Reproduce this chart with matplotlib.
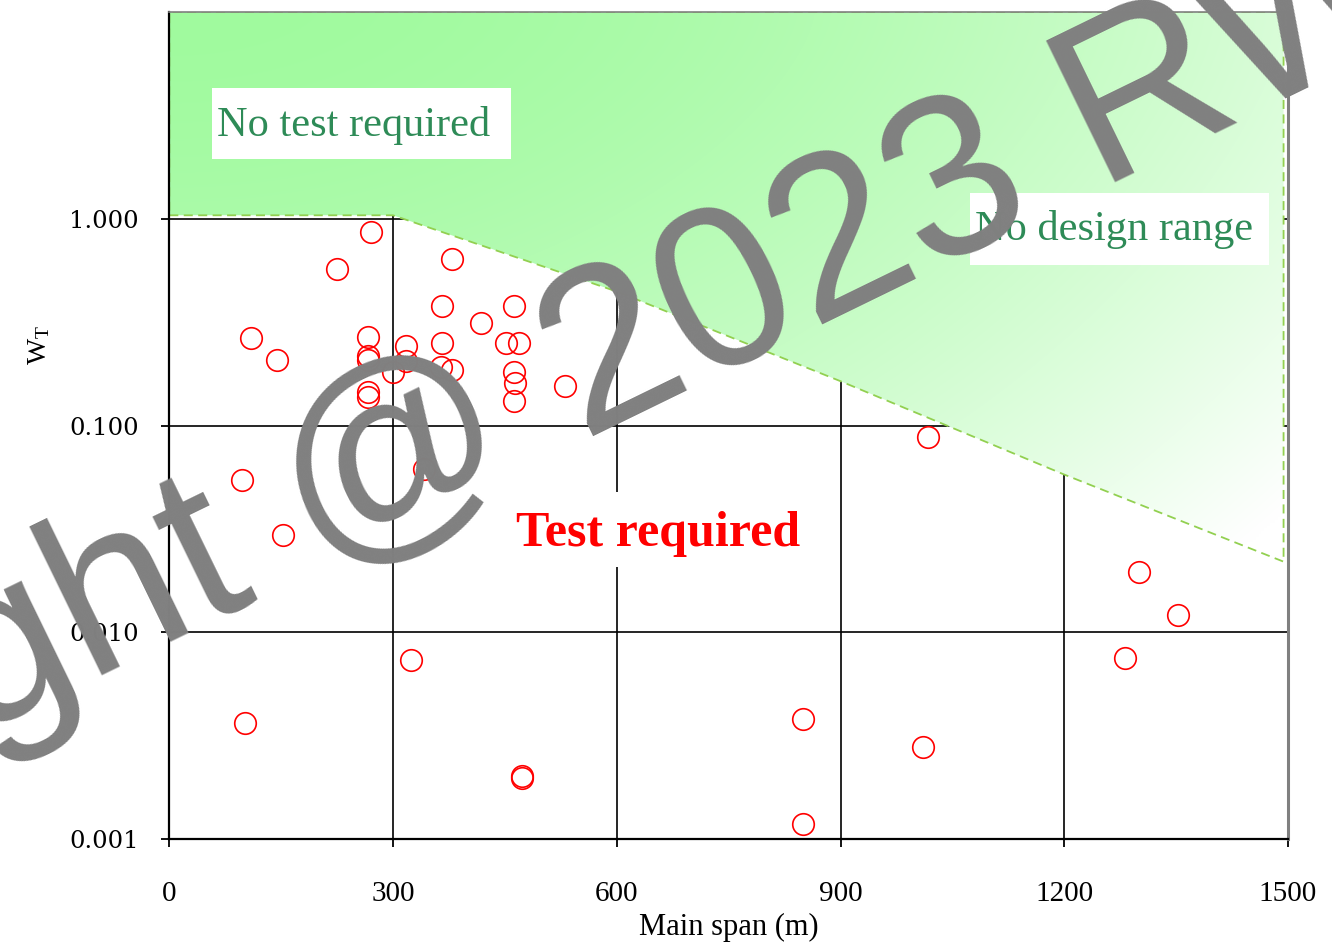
import numpy as np
import matplotlib
matplotlib.use("Agg")
import matplotlib.pyplot as plt
from matplotlib.patches import Polygon, Rectangle

plt.rcParams["font.family"] = ["Liberation Serif", "DejaVu Serif"]

# bridges: main span (m) and W_T
SPAN = [270, 225, 379, 110, 144, 267, 266, 266, 366, 418,
        462, 317, 317, 366, 452, 469, 364, 379, 462, 464,
        462, 530, 300, 267, 267, 98, 152, 341, 324, 473,
        473, 849, 849, 102, 1017, 1300, 1352, 1282, 1010]
WT = [0.861, 0.573, 0.636, 0.266, 0.207, 0.268, 0.217, 0.208, 0.378, 0.314,
      0.377, 0.244, 0.205, 0.251, 0.251, 0.251, 0.192, 0.185, 0.182, 0.161,
      0.131, 0.155, 0.182, 0.145, 0.137, 0.0544, 0.0295, 0.062, 0.00735, 0.00202,
      0.00198, 0.00381, 0.00119, 0.00365, 0.0881, 0.0195, 0.0121, 0.00749, 0.00278]

# lower edge of the "no test required" zone
LIMIT_SPAN = [0, 300, 600, 900, 1200, 1494]
LIMIT_WT = [1.04, 1.04, 0.445, 0.164, 0.058, 0.022]

YTICKS = [0.001, 0.01, 0.1, 1.0]
YTICK_LABELS = ["0.001", "0.010", "0.100", "1.000"]
XTICKS = [0, 300, 600, 900, 1200, 1500]

fig = plt.figure(figsize=(13.32, 9.44), dpi=100)
ax = fig.add_axes([0.1271, 0.1109, 0.8399, 0.8764])
ax.set_yscale("log")

# gradient-filled zone, clipped to the limit polygon
verts = list(zip(LIMIT_SPAN, LIMIT_WT)) + [(LIMIT_SPAN[-1], 10), (0, 10)]
zone = Polygon(verts, closed=True, facecolor="none", edgecolor="#92d050",
               ls=(0, (5, 3)), lw=1.3, zorder=2)
ax.add_patch(zone)

u = np.linspace(0, 1, 400)[None, :]
v = np.linspace(1, 0, 300)[:, None]
t = np.clip(0.6 * u ** 2 + 0.45 * ((1 - v) / 0.65) ** 1.5, 0, 1)
c0 = np.array([160, 250, 158]) / 255
img = c0 + (1 - c0) * t[..., None]
im = ax.imshow(img, extent=(0, 1, 0, 1), transform=ax.transAxes,
               aspect="auto", origin="upper", zorder=1, interpolation="bilinear")
im.set_clip_path(zone)

ax.plot(SPAN, WT, "o", mfc="none", mec="red", ms=15.5, mew=1.2, zorder=4)

ax.set_xlim(0, 1500)
ax.set_ylim(0.001, 10)
ax.set_xticks(XTICKS)
ax.set_yticks(YTICKS)
ax.set_yticklabels(YTICK_LABELS)
ax.minorticks_off()

ax.set_axisbelow(True)
ax.grid(True, color="black", lw=1.2)

for s in ("left", "bottom"):
    ax.spines[s].set_color("black")
    ax.spines[s].set_linewidth(1.6)
ax.spines["top"].set_color("#808080")
ax.spines["top"].set_linewidth(1.2)
ax.spines["right"].set_color("#808080")
ax.spines["right"].set_linewidth(2.2)

ax.tick_params(axis="x", direction="out", length=6, width=1.3, pad=24,
               labelsize=21)
ax.tick_params(axis="y", direction="out", length=6, width=1.3, pad=16,
               labelsize=17.5)
for lbl in ax.get_yticklabels():
    lbl.set_family("DejaVu Serif")

ax.set_xlabel("Main span (m)", fontsize=22, labelpad=4)
ax.set_ylabel(r"$\mathregular{W_T}$", fontsize=20)
ax.yaxis.set_label_coords(-0.105, 0.5975)

# white label boxes (axes fractions)
for x0, y0, w, h in [(0.0382, 0.8223, 0.2672, 0.0858),
                     (0.7155, 0.6939, 0.2674, 0.0871),
                     (0.3028, 0.3291, 0.2655, 0.0907)]:
    ax.add_patch(Rectangle((x0, y0), w, h, transform=ax.transAxes,
                           fc="white", ec="none", zorder=3))

ax.text(0.0428, 0.8501, "No test required", transform=ax.transAxes,
        fontsize=30.5, color="#2e8b57", ha="left", va="baseline", zorder=3.5)
ax.text(0.7201, 0.7244, "No design range", transform=ax.transAxes,
        fontsize=30.5, color="#2e8b57", ha="left", va="baseline", zorder=3.5)
ax.text(0.3100, 0.3546, "Test required", transform=ax.transAxes,
        fontsize=36, color="red", fontweight="bold", ha="left",
        va="baseline", zorder=3.5)

fig.text(0.3836, 0.4958, "Copyright @ 2023 RWDI", rotation=26,
         rotation_mode="anchor", ha="center", va="baseline", fontsize=165,
         color="#808080", family="Liberation Sans", zorder=10)

fig.savefig("out.png", dpi=100)
